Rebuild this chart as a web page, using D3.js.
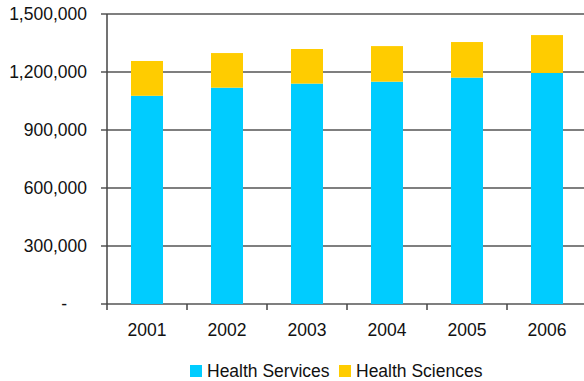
<!DOCTYPE html>
<html>
<head>
<meta charset="utf-8">
<title>Health chart</title>
<script src="https://cdn.jsdelivr.net/npm/d3@7"></script>
<style>
  body { margin: 0; background: #fff; }
  text { font-family: "Liberation Sans", Arial, sans-serif; fill: #111; }
</style>
</head>
<body>
<div id="chart"></div>
<script>
// data
const years = ["2001", "2002", "2003", "2004", "2005", "2006"];
const healthServices = [1077000, 1119000, 1140000, 1150000, 1171000, 1195000];
const healthSciences = [180000, 179000, 179000, 184000, 184000, 196000];
const yTicks = [0, 300000, 600000, 900000, 1200000, 1500000];
const seriesNames = ["Health Services", "Health Sciences"];
const colors = ["#00ccff", "#ffcc00"];

const width = 584, height = 381;
const margin = { top: 14, right: -3, bottom: 77, left: 107 };
const fontSize = 17.5;

const svg = d3.select("#chart").append("svg")
    .attr("width", width)
    .attr("height", height);

const x = d3.scaleBand()
    .domain(years)
    .range([margin.left, width - margin.right])
    .paddingInner(0.6)
    .paddingOuter(0.3);

const y = d3.scaleLinear()
    .domain([0, 1500000])
    .range([height - margin.bottom, margin.top]);

// gridlines
svg.append("g")
    .selectAll("line")
    .data(yTicks)
    .enter().append("line")
    .attr("x1", margin.left - 6)
    .attr("x2", width)
    .attr("y1", d => y(d))
    .attr("y2", d => y(d))
    .attr("stroke", "#555")
    .attr("stroke-width", 1.5);

// y labels
svg.append("g")
    .selectAll("text")
    .data(yTicks)
    .enter().append("text")
    .attr("x", d => d === 0 ? 67 : 87)
    .attr("y", d => y(d))
    .attr("dy", "0.35em")
    .attr("text-anchor", "end")
    .attr("font-size", fontSize)
    .text(d => d === 0 ? "-" : d3.format(",")(d));

// stacked bars
const stacked = d3.stack().keys([0, 1])(years.map((yr, i) => ({ year: yr, 0: healthServices[i], 1: healthSciences[i] })));

svg.append("g")
    .selectAll("g")
    .data(stacked)
    .enter().append("g")
    .attr("fill", (d, i) => colors[i])
    .selectAll("rect")
    .data(d => d)
    .enter().append("rect")
    .attr("x", d => x(d.data.year))
    .attr("width", x.bandwidth())
    .attr("y", d => y(d[1]))
    .attr("height", d => y(d[0]) - y(d[1]));

// axes lines
const step = x.step();
svg.append("line")
    .attr("x1", margin.left).attr("x2", margin.left)
    .attr("y1", margin.top).attr("y2", y(0))
    .attr("stroke", "#444").attr("stroke-width", 1.5);

svg.append("g")
    .selectAll("line")
    .data(d3.range(years.length + 1))
    .enter().append("line")
    .attr("x1", i => margin.left + i * step)
    .attr("x2", i => margin.left + i * step)
    .attr("y1", y(0))
    .attr("y2", y(0) + 6)
    .attr("stroke", "#444").attr("stroke-width", 1.5);

// x labels
svg.append("g")
    .selectAll("text")
    .data(years)
    .enter().append("text")
    .attr("x", d => x(d) + x.bandwidth() / 2)
    .attr("y", 336)
    .attr("text-anchor", "middle")
    .attr("font-size", fontSize)
    .text(d => d);

// legend
const legend = svg.append("g");
const legendX = [190, 339];
seriesNames.forEach((name, i) => {
    legend.append("rect")
        .attr("x", legendX[i]).attr("y", 365)
        .attr("width", 12).attr("height", 12)
        .attr("fill", colors[i]);
    legend.append("text")
        .attr("x", legendX[i] + 17).attr("y", 371)
        .attr("dy", "0.35em")
        .attr("font-size", fontSize)
        .text(name);
});
</script>
</body>
</html>
